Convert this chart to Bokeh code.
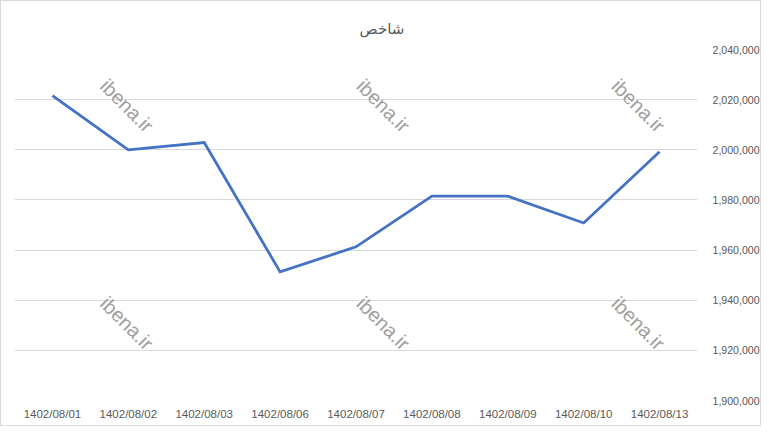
import math
from bokeh.plotting import figure
from bokeh.models import FixedTicker, Label, NumeralTickFormatter, LinearAxis, Range1d
from bokeh.embed import file_html
from bokeh.resources import INLINE

# ---- data ----
dates = ["1402/08/01", "1402/08/02", "1402/08/03", "1402/08/06", "1402/08/07",
         "1402/08/08", "1402/08/09", "1402/08/10", "1402/08/13"]
values = [2021600, 2000000, 2002900, 1951300, 1961300, 1981500, 1981500, 1970800, 1999200]
y_ticks = [1900000, 1920000, 1940000, 1960000, 1980000, 2000000, 2020000, 2040000]
title_text = "شاخص"
watermark = "ibena.ir"

xs = [i + 0.5 for i in range(len(dates))]

p = figure(width=761, height=426, output_backend="svg", toolbar_location=None,
           x_range=Range1d(0, len(dates)), y_range=Range1d(y_ticks[0], y_ticks[-1]),
           min_border_left=13, min_border_right=65, min_border_top=48, min_border_bottom=27,
           y_axis_location=None)
p.styles = {"border": "1px solid #d9d9d9", "box-sizing": "border-box"}
p.outline_line_color = None
p.background_fill_color = "white"
p.border_fill_color = "white"

# title
p.title.text = title_text
p.title.align = "left"
p.title.offset = 345
p.title.text_font = "DejaVu Sans"
p.title.text_font_size = "15px"
p.title.text_font_style = "normal"
p.title.text_color = "#595959"
p.title.standoff = 24

# x axis
xa = p.xaxis[0]
xa.ticker = FixedTicker(ticks=xs)
xa.major_label_overrides = {x: d for x, d in zip(xs, dates)}
xa.axis_line_color = None
xa.major_tick_line_color = None
xa.minor_tick_line_color = None
xa.major_label_standoff = 1
xa.major_label_text_font = "Liberation Sans"
xa.major_label_text_font_size = "11.5px"
xa.major_label_text_color = "#595959"
p.xgrid.grid_line_color = None

# right y axis
ya = LinearAxis(ticker=FixedTicker(ticks=y_ticks),
                formatter=NumeralTickFormatter(format="0,0"))
ya.axis_line_color = None
ya.major_tick_line_color = None
ya.minor_tick_line_color = None
ya.major_label_standoff = 9
ya.major_label_text_font = "Liberation Sans"
ya.major_label_text_font_size = "10.6px"
ya.major_label_text_color = "#595959"
p.add_layout(ya, "right")
p.ygrid.ticker = FixedTicker(ticks=y_ticks)
p.ygrid.grid_line_color = "#d9d9d9"
p.ygrid.grid_line_width = 1

# watermarks
for wx in [1.48, 4.86, 8.22]:
    for wy in [2017600, 1930800]:
        p.add_layout(Label(x=wx, y=wy, text=watermark, angle=-math.pi / 4,
                           text_align="center", text_baseline="middle",
                           text_font="Liberation Sans", text_font_size="20px",
                           text_color="#a0a0a0"))

# line
p.line(xs, values, line_color="#4472C4", line_width=2.8, line_join="miter")

open("out.html", "w").write(file_html(p, INLINE))
